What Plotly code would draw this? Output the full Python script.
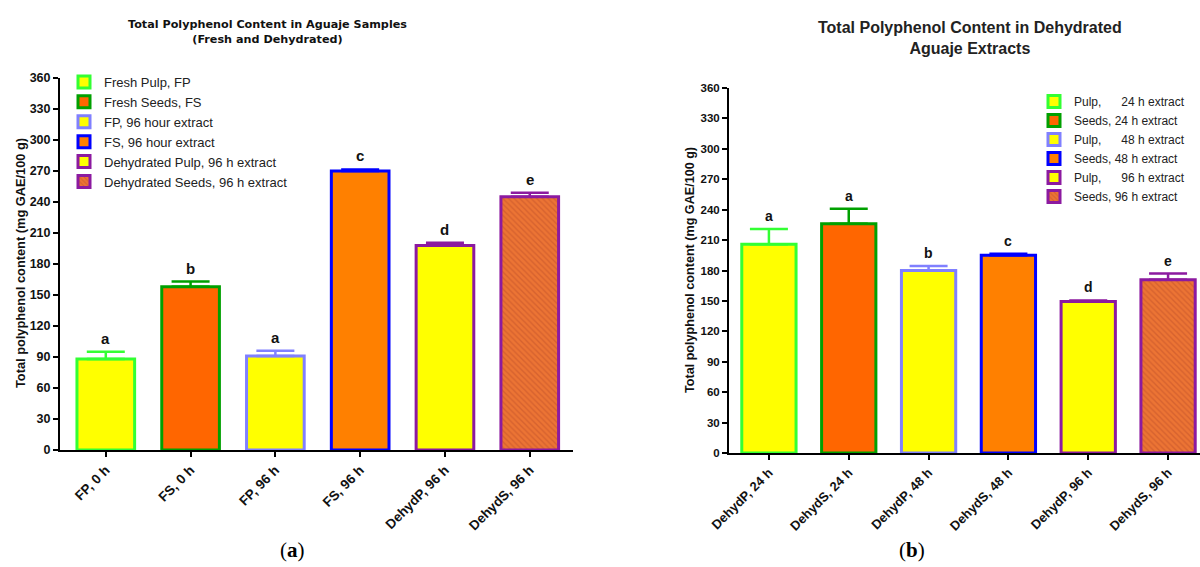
import plotly.graph_objects as go

# ---------------- Data ----------------
# Panel (a)
cats_a = ["FP, 0 h", "FS, 0 h", "FP, 96 h", "FS, 96 h", "DehydP, 96 h", "DehydS, 96 h"]
names_a = ["Fresh Pulp, FP", "Fresh Seeds, FS", "FP, 96 hour extract", "FS, 96 hour extract",
           "Dehydrated Pulp, 96 h extract", "Dehydrated Seeds, 96 h extract"]
vals_a = [88, 158, 91, 270, 198, 245]
err_a = [7, 5, 5, 1.5, 2.5, 4]
letters_a = ["a", "b", "a", "c", "d", "e"]

# Panel (b)
cats_b = ["DehydP, 24 h", "DehydS, 24 h", "DehydP, 48 h", "DehydS, 48 h", "DehydP, 96 h", "DehydS, 96 h"]
NB = "\u00a0"
names_b = ["Pulp," + NB * 6 + "24 h extract", "Seeds, 24 h extract",
           "Pulp," + NB * 6 + "48 h extract", "Seeds, 48 h extract",
           "Pulp," + NB * 6 + "96 h extract", "Seeds, 96 h extract"]
vals_b = [206, 226, 180, 195, 149.5, 171]
err_b = [15, 15, 4.5, 1.5, 1, 6]
letters_b = ["a", "a", "b", "c", "d", "e"]

y_ticks = list(range(0, 361, 30))

# ---------------- Styles ----------------
fills = ["#FFFF00", "#FF6600", "#FFFF00", "#FF8000", "#FFFF00", "#EC7434"]
borders = ["#33FF33", "#00A000", "#8080FF", "#0000FF", "#8C1AA0", "#8C1AA0"]
patterns = ["", "", "", "", "", "\\"]
FONT = "Liberation Sans, Arial, sans-serif"

fig = go.Figure()


def add_panel(cats, names, vals, errs, xa, ya, legend):
    for i, c in enumerate(cats):
        fig.add_trace(go.Bar(
            x=[c], y=[vals[i]], name=names[i], width=0.68,
            xaxis=xa, yaxis=ya, legend=legend,
            marker=dict(color=fills[i], line=dict(color=borders[i], width=3),
                        pattern=dict(shape=patterns[i], fgcolor="#C0502A",
                                     bgcolor=fills[i], size=4, solidity=0.35)),
            error_y=dict(type="data", array=[errs[i]], arrayminus=[0], symmetric=False,
                         color=borders[i], thickness=2.5, width=19),
        ))


add_panel(cats_a, names_a, vals_a, err_a, "x", "y", "legend")
add_panel(cats_b, names_b, vals_b, err_b, "x2", "y2", "legend2")

annotations = []
for c, v, e, l in zip(cats_a, vals_a, err_a, letters_a):
    annotations.append(dict(x=c, y=v + e, xref="x", yref="y", text="<b>%s</b>" % l,
                            showarrow=False, yanchor="bottom", xanchor="center", yshift=3,
                            font=dict(family=FONT, size=15, color="#111")))
for c, v, e, l in zip(cats_b, vals_b, err_b, letters_b):
    annotations.append(dict(x=c, y=v + e, xref="x2", yref="y2", text="<b>%s</b>" % l,
                            showarrow=False, yanchor="bottom", xanchor="center", yshift=3,
                            font=dict(family=FONT, size=14, color="#111")))

# Titles and panel labels
annotations += [
    dict(x=267 / 1200, y=1 - 32 / 567, xref="paper", yref="paper", showarrow=False,
         xanchor="center", yanchor="middle",
         text="<b>Total Polyphenol Content in Aguaje Samples</b><br><b>(Fresh and Dehydrated)</b>",
         font=dict(family="DejaVu Sans, sans-serif", size=11.2, color="#111")),
    dict(x=970 / 1200, y=1 - 38 / 567, xref="paper", yref="paper", showarrow=False,
         xanchor="center", yanchor="middle",
         text="<b>Total Polyphenol Content in Dehydrated</b><br><b>Aguaje Extracts</b>",
         font=dict(family=FONT, size=16, color="#222")),
    dict(x=20 / 1200, y=1 - 263 / 567, xref="paper", yref="paper", showarrow=False,
         xanchor="center", yanchor="middle",
         textangle=-90, text="<b>Total polyphenol content (mg GAE/100 g)</b>",
         font=dict(family=FONT, size=12.8, color="#111")),
    dict(x=690 / 1200, y=1 - 270 / 567, xref="paper", yref="paper", showarrow=False,
         xanchor="center", yanchor="middle",
         textangle=-90, text="<b>Total polyphenol content (mg GAE/100 g)</b>",
         font=dict(family=FONT, size=12.6, color="#111")),
    dict(x=292 / 1200, y=1 - 550 / 567, xref="paper", yref="paper", showarrow=False,
         xanchor="center", yanchor="middle",
         text="(<b>a</b>)", font=dict(family="Liberation Serif, serif", size=21, color="#000")),
    dict(x=912 / 1200, y=1 - 550 / 567, xref="paper", yref="paper", showarrow=False,
         xanchor="center", yanchor="middle",
         text="(<b>b</b>)", font=dict(family="Liberation Serif, serif", size=21, color="#000")),
]

axis_common = dict(showline=True, linecolor="black", linewidth=2, ticks="outside",
                   ticklen=5, tickwidth=2, tickcolor="black", showgrid=False, zeroline=False,
                   automargin=False)

fig.update_layout(
    width=1200, height=567, margin=dict(l=0, r=0, t=0, b=0, autoexpand=False),
    paper_bgcolor="white", plot_bgcolor="white",
    barmode="overlay", showlegend=True,
    annotations=annotations,
    xaxis=dict(domain=[60 / 1200, 573 / 1200], range=[-0.54, 5.51], anchor="y",
               categoryorder="array", categoryarray=cats_a, tickangle=-45,
               tickfont=dict(family=FONT, size=13.5, color="#111", weight="bold"), **axis_common),
    yaxis=dict(domain=[1 - 450 / 567, 1 - 78 / 567], range=[0, 360], anchor="x",
               tickvals=y_ticks, tickfont=dict(family=FONT, size=12.5, color="#111", weight="bold"),
               **axis_common),
    xaxis2=dict(domain=[729 / 1200, 1.0], range=[-0.5, 5.4], anchor="y2",
                categoryorder="array", categoryarray=cats_b, tickangle=-45,
                tickfont=dict(family=FONT, size=13, color="#111", weight="bold"), **axis_common),
    yaxis2=dict(domain=[1 - 453 / 567, 1 - 88 / 567], range=[0, 360], anchor="x2",
                tickvals=y_ticks, tickfont=dict(family=FONT, size=11.5, color="#111", weight="bold"),
                **axis_common),
    legend=dict(x=64 / 1200, y=1 - 67 / 567, xanchor="left", yanchor="top",
                bgcolor="rgba(0,0,0,0)", tracegroupgap=0,
                font=dict(family=FONT, size=13, color="#222")),
    legend2=dict(x=1034 / 1200, y=1 - 87 / 567, xanchor="left", yanchor="top",
                 bgcolor="rgba(0,0,0,0)", tracegroupgap=0,
                 font=dict(family=FONT, size=12, color="#222")),
)

fig.write_html("out.html", config={"displayModeBar": False},
               post_script="document.body.style.margin='0';document.body.style.overflow='hidden';")
